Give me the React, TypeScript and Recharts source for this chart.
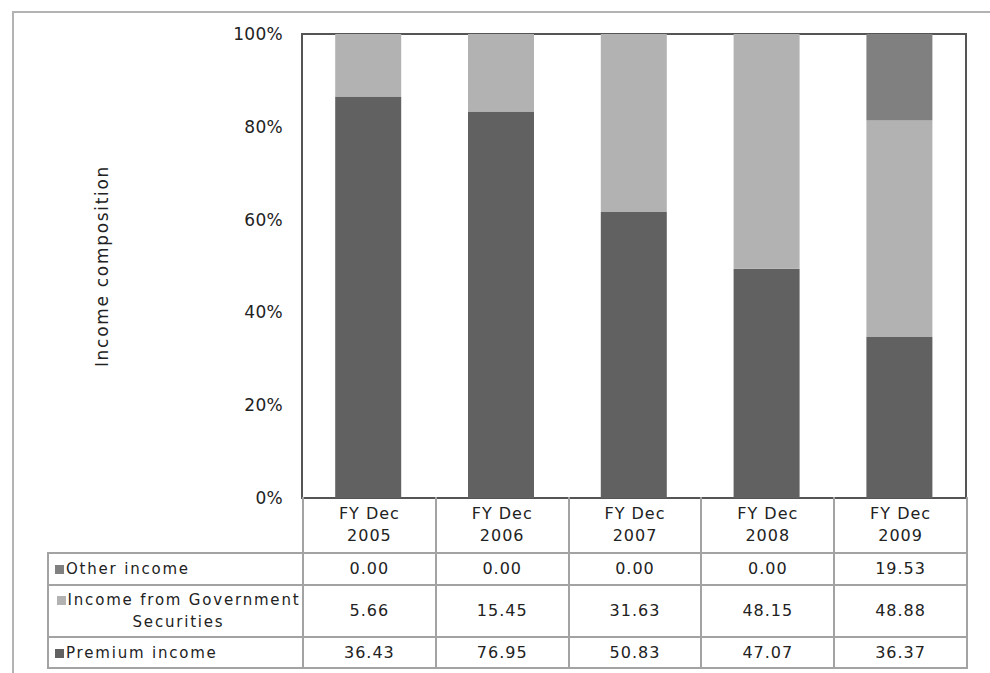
import React from "react";
import { Bar, BarChart, ReferenceArea, XAxis, YAxis } from "recharts";

const categories = ["FY Dec 2005", "FY Dec 2006", "FY Dec 2007", "FY Dec 2008", "FY Dec 2009"];
const premiumIncome = [36.43, 76.95, 50.83, 47.07, 36.37];
const govSecurities = [5.66, 15.45, 31.63, 48.15, 48.88];
const otherIncome = [0.0, 0.0, 0.0, 0.0, 19.53];
const yTicks = [0, 0.2, 0.4, 0.6, 0.8, 1];

const COLORS = { premium: "#616161", gov: "#b2b2b2", other: "#808080" };
const FONT = '"DejaVu Sans", sans-serif';
const GRID = "#a3a3a3";

const W = 990;
const H = 673;
const PLOT_LEFT = 302;
const PLOT_RIGHT = 966;
const PLOT_TOP = 34;
const PLOT_BOTTOM = 498;

// table rows, top to bottom like the reference
const tableRows = [
  { label: "Other income", color: COLORS.other, values: otherIncome, height: 32 },
  { label: "Income from Government Securities", color: COLORS.gov, values: govSecurities, height: 52 },
  { label: "Premium income", color: COLORS.premium, values: premiumIncome, height: 31 },
];

export default function App() {
  const data = categories.map((name, i) => ({
    name,
    premium: premiumIncome[i],
    gov: govSecurities[i],
    other: otherIncome[i],
  }));

  const colWidth = (PLOT_RIGHT - PLOT_LEFT) / categories.length;
  const cellBorder = `2px solid ${GRID}`;
  const cellText: React.CSSProperties = {
    fontFamily: FONT,
    fontSize: 16,
    letterSpacing: 1,
    color: "#222",
    textAlign: "center",
    padding: 0,
    lineHeight: "22px",
  };

  const legendLabel = (label: string) => {
    if (label.length <= 20) return label;
    const cut = label.lastIndexOf(" ");
    return (
      <>
        <span style={{ whiteSpace: "nowrap" }}>{label.slice(0, cut)}</span>
        <br />
        {label.slice(cut + 1)}
      </>
    );
  };

  return (
    <div
      style={{
        position: "absolute",
        left: 0,
        top: 0,
        width: W,
        height: H,
        background: "#fff",
        overflow: "hidden",
        fontFamily: FONT,
      }}
    >
      <div
        style={{
          position: "absolute",
          left: 12,
          top: 11,
          width: W,
          height: H,
          borderTop: "2px solid #b3b3b3",
          borderLeft: "2px solid #b3b3b3",
        }}
      />
      <div style={{ position: "absolute", left: 0, top: 0 }}>
        <BarChart
          width={W}
          height={H}
          data={data}
          stackOffset="expand"
          barCategoryGap="25%"
          margin={{ top: PLOT_TOP, right: W - PLOT_RIGHT, bottom: H - PLOT_BOTTOM, left: 100 }}
        >
          <XAxis dataKey="name" hide />
          <YAxis
            width={PLOT_LEFT - 100}
            domain={[0, 1]}
            ticks={yTicks}
            tickFormatter={(v: number) => `${Math.round(v * 100)}%`}
            axisLine={false}
            tickLine={false}
            tickMargin={13}
            tick={{ fill: "#222", fontSize: 17, fontFamily: FONT, letterSpacing: 0.3 }}
            label={{
              value: "Income composition",
              angle: -90,
              position: "insideLeft",
              offset: 2,
              style: { textAnchor: "middle", fill: "#222", fontSize: 17, fontFamily: FONT, letterSpacing: 1.7 },
            }}
          />
          <Bar dataKey="premium" stackId="a" fill={COLORS.premium} isAnimationActive={false} />
          <Bar dataKey="gov" stackId="a" fill={COLORS.gov} isAnimationActive={false} />
          <Bar dataKey="other" stackId="a" fill={COLORS.other} isAnimationActive={false} />
          <ReferenceArea y1={0} y2={1} fill="none" stroke="#555" strokeWidth={2} ifOverflow="visible" />
        </BarChart>
      </div>

      <table
        style={{
          position: "absolute",
          left: 47,
          top: PLOT_BOTTOM - 1,
          borderCollapse: "collapse",
          tableLayout: "fixed",
          width: PLOT_RIGHT - 47 + 1,
        }}
      >
        <colgroup>
          <col style={{ width: PLOT_LEFT - 47 }} />
          {categories.map((c) => (
            <col key={c} style={{ width: colWidth }} />
          ))}
        </colgroup>
        <tbody>
          <tr style={{ height: 56 }}>
            <td style={{ border: "none", borderBottom: cellBorder }} />
            {categories.map((c) => {
              const cut = c.lastIndexOf(" ");
              return (
                <td key={c} style={{ ...cellText, border: cellBorder, borderTop: "none" }}>
                  {c.slice(0, cut)}
                  <br />
                  {c.slice(cut + 1)}
                </td>
              );
            })}
          </tr>
          {tableRows.map((row) => (
            <tr key={row.label} style={{ height: row.height }}>
              <td
                style={{
                  ...cellText,
                  fontSize: 15,
                  letterSpacing: 1.8,
                  border: cellBorder,
                  padding: "0 0 0 6px",
                  textAlign: row.label.length > 20 ? "center" : "left",
                  overflow: "visible",
                }}
              >
                <span
                  style={{
                    display: "inline-block",
                    width: 9,
                    height: 9,
                    background: row.color,
                    marginRight: 2,
                  }}
                />
                {legendLabel(row.label)}
              </td>
              {row.values.map((v, i) => (
                <td key={categories[i]} style={{ ...cellText, border: cellBorder }}>
                  {v.toFixed(2)}
                </td>
              ))}
            </tr>
          ))}
        </tbody>
      </table>
    </div>
  );
}
